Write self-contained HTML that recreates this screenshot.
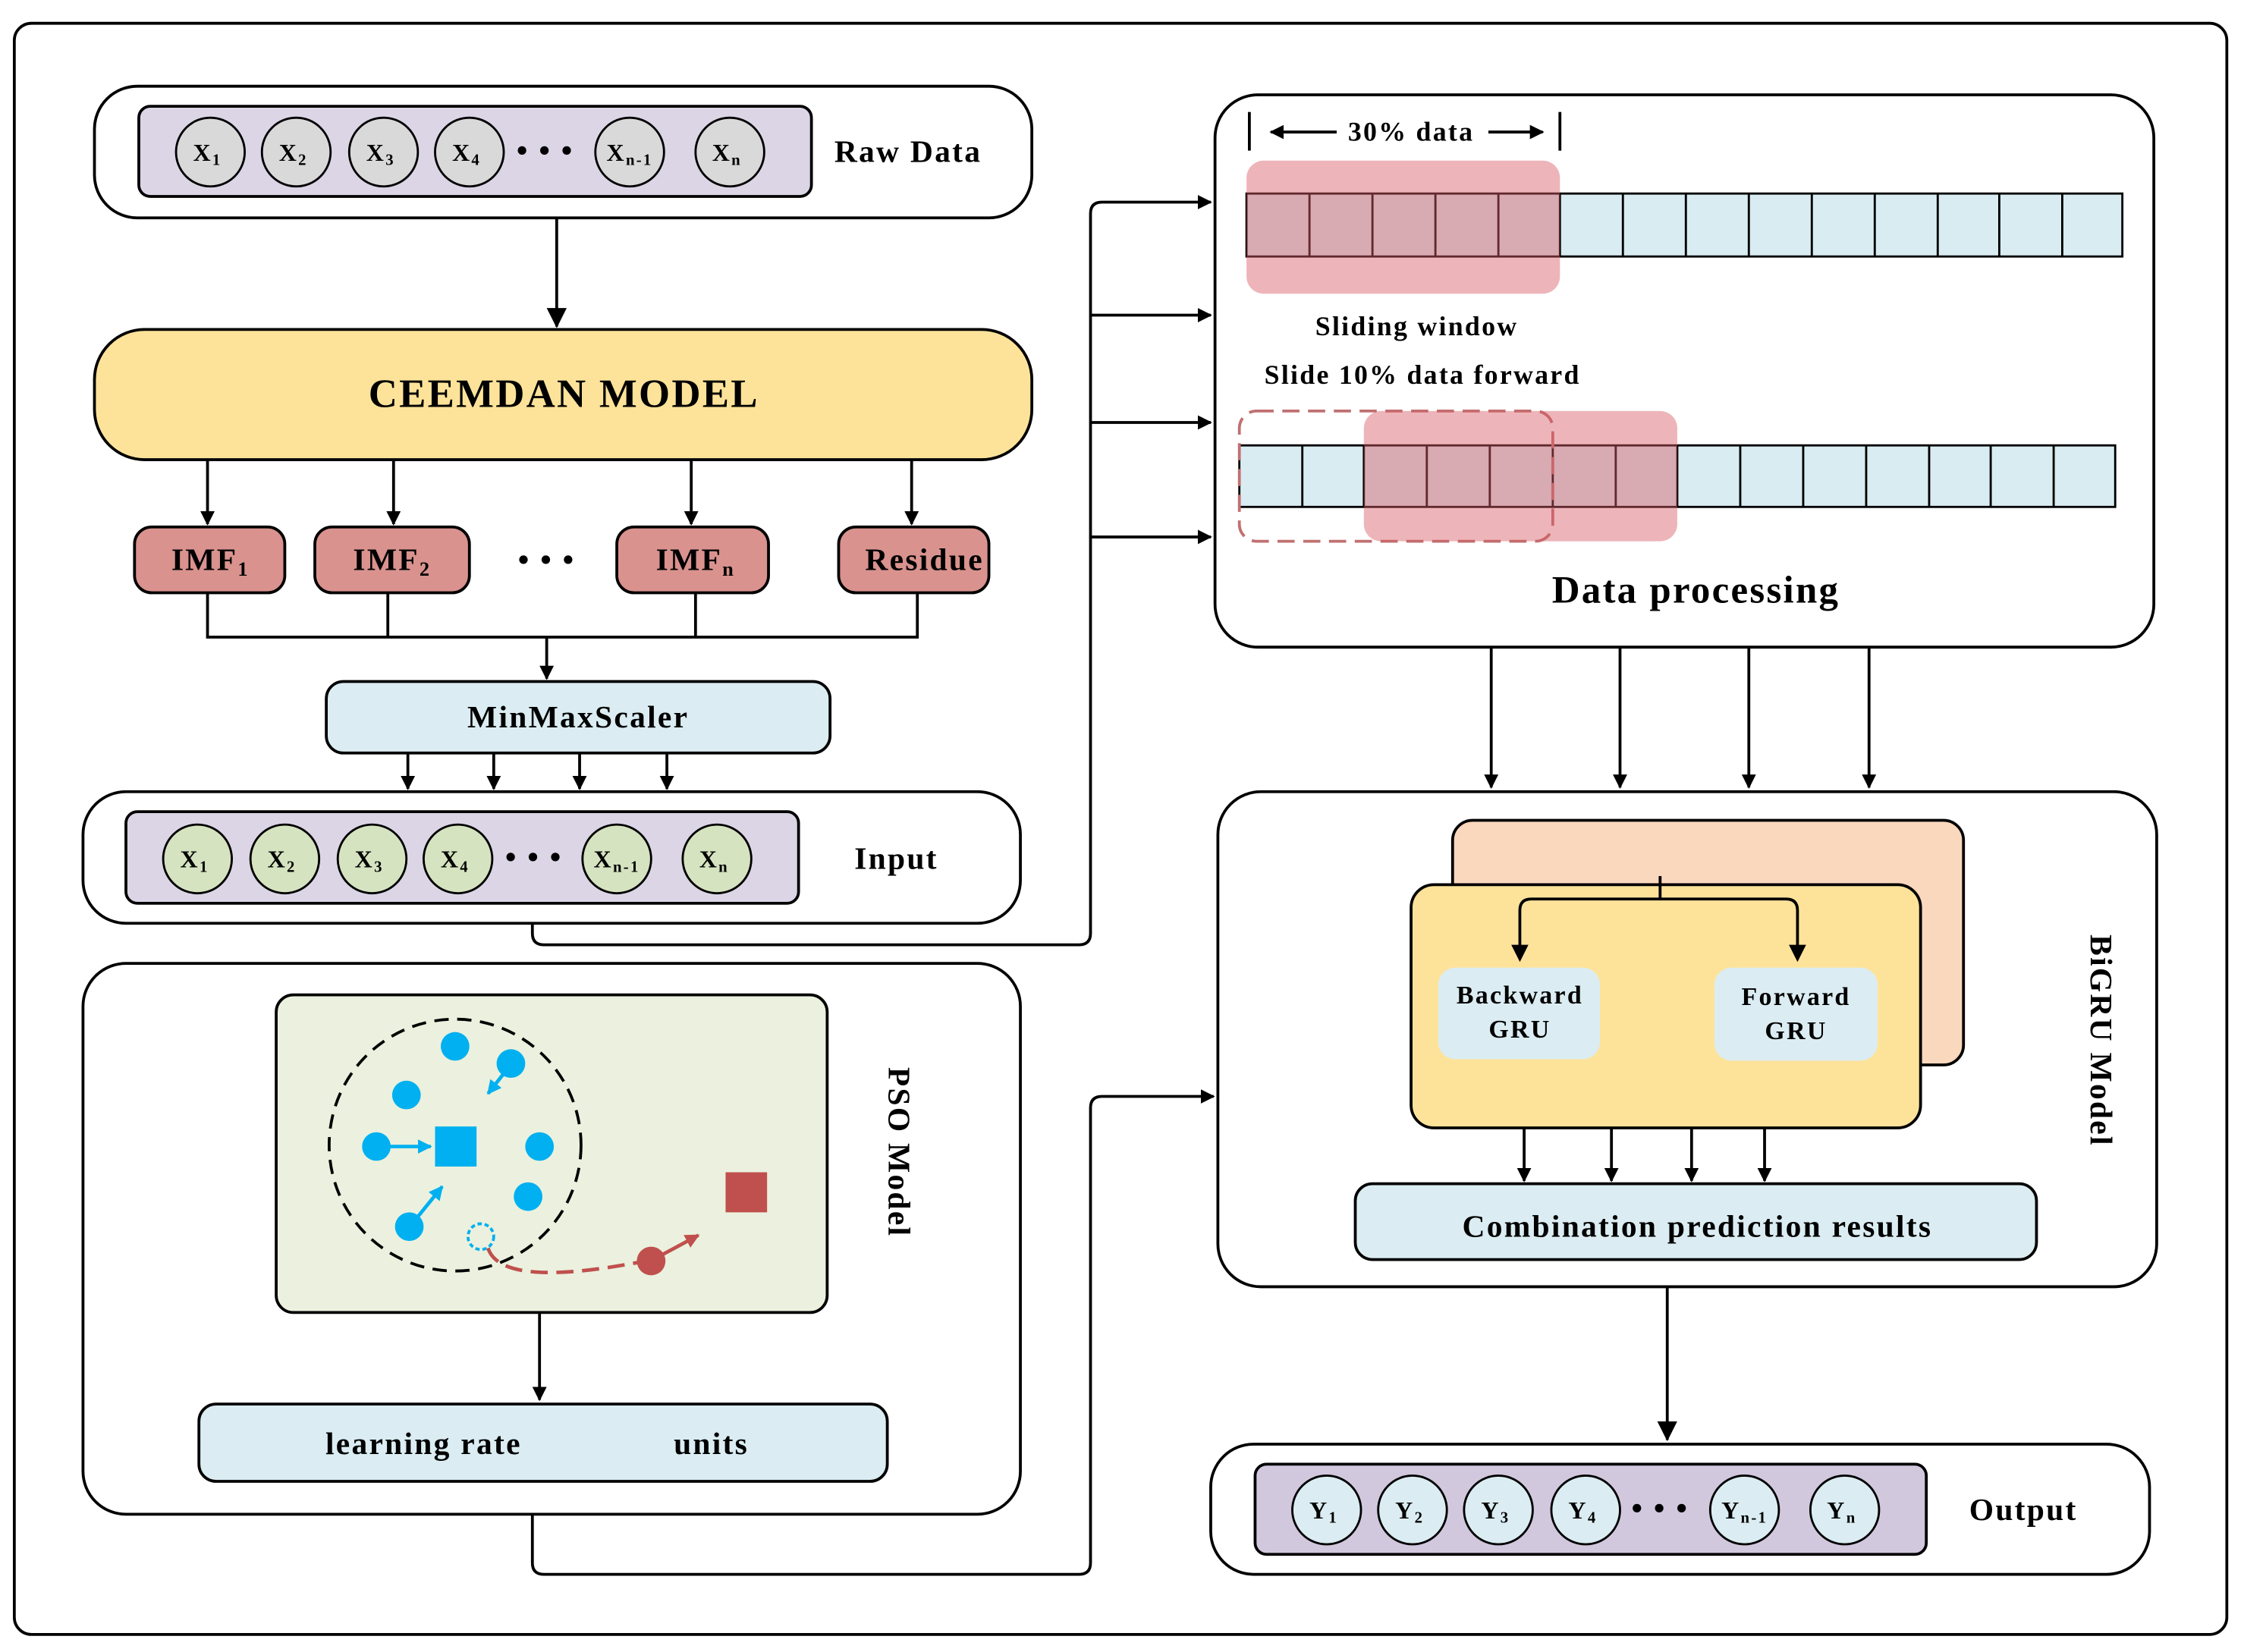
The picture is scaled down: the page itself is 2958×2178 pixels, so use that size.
<!DOCTYPE html>
<html><head><meta charset="utf-8"><style>
html,body{margin:0;padding:0;background:#fff;}
svg{display:block;}
text{font-family:"Liberation Serif",serif;font-weight:bold;fill:#000;letter-spacing:1.2px;}
</style></head><body>
<svg width="2958" height="2178" viewBox="0 0 1568 1154" xmlns="http://www.w3.org/2000/svg">
<defs>
<marker id="a" markerWidth="10" markerHeight="10" refX="9" refY="5" orient="auto" markerUnits="userSpaceOnUse"><path d="M0,0 L10,5 L0,10 z" fill="#000"/></marker>
<marker id="b" markerWidth="14" markerHeight="14" refX="13" refY="7" orient="auto" markerUnits="userSpaceOnUse"><path d="M0,0 L14,7 L0,14 z" fill="#000"/></marker>
<marker id="bl" markerWidth="10" markerHeight="10" refX="9" refY="5" orient="auto" markerUnits="userSpaceOnUse"><path d="M0,0 L10,5 L0,10 z" fill="#00b0f0"/></marker>
<marker id="rd" markerWidth="10" markerHeight="10" refX="9" refY="5" orient="auto" markerUnits="userSpaceOnUse"><path d="M0,0 L10,5 L0,10 z" fill="#c0504d"/></marker>
</defs>
<rect x="10" y="16" width="1546" height="1126" rx="12" fill="none" stroke="#000" stroke-width="2"/>

<!-- Raw data -->
<rect x="66" y="60" width="655" height="92" rx="30" fill="#fff" stroke="#000" stroke-width="2"/>
<rect x="97" y="74" width="470" height="63" rx="8" fill="#dcd5e6" stroke="#000" stroke-width="2"/>
<g fill="#d9d9d9" stroke="#000" stroke-width="1.5">
<circle cx="147" cy="106" r="24"/><circle cx="207" cy="106" r="24"/><circle cx="268" cy="106" r="24"/><circle cx="328" cy="106" r="24"/><circle cx="440" cy="106" r="24"/><circle cx="510" cy="106" r="24"/></g>
<g font-size="17" text-anchor="middle">
<text x="145" y="112">X<tspan font-size="11" dy="3">1</tspan></text>
<text x="205" y="112">X<tspan font-size="11" dy="3">2</tspan></text>
<text x="266" y="112">X<tspan font-size="11" dy="3">3</tspan></text>
<text x="326" y="112">X<tspan font-size="11" dy="3">4</tspan></text>
<text x="440" y="112">X<tspan font-size="11" dy="3">n-1</tspan></text>
<text x="508" y="112">X<tspan font-size="11" dy="3">n</tspan></text>
</g>
<text x="381" y="112" font-size="22" text-anchor="middle">• • •</text>
<text x="583" y="113" font-size="22">Raw Data</text>
<line x1="389" y1="152" x2="389" y2="228" stroke="#000" stroke-width="2" marker-end="url(#b)"/>

<!-- CEEMDAN -->
<rect x="66" y="230" width="655" height="91" rx="35" fill="#fde39a" stroke="#000" stroke-width="2"/>
<text x="394" y="284" font-size="28" text-anchor="middle">CEEMDAN MODEL</text>
<g stroke="#000" stroke-width="2">
<line x1="145" y1="321" x2="145" y2="366" marker-end="url(#a)"/>
<line x1="275" y1="321" x2="275" y2="366" marker-end="url(#a)"/>
<line x1="483" y1="321" x2="483" y2="366" marker-end="url(#a)"/>
<line x1="637" y1="321" x2="637" y2="366" marker-end="url(#a)"/>
</g>
<g fill="#d9928e" stroke="#000" stroke-width="2">
<rect x="94" y="368" width="105" height="46" rx="12"/><rect x="220" y="368" width="108" height="46" rx="12"/>
<rect x="431" y="368" width="106" height="46" rx="12"/><rect x="586" y="368" width="105" height="46" rx="12"/></g>
<g font-size="22" text-anchor="middle">
<text x="147" y="398">IMF<tspan font-size="14" dy="4">1</tspan></text>
<text x="274" y="398">IMF<tspan font-size="14" dy="4">2</tspan></text>
<text x="486" y="398">IMF<tspan font-size="14" dy="4">n</tspan></text>
<text x="646" y="398">Residue</text>
<text x="382" y="398">• • •</text></g>
<path d="M145,414 V445 H641 V414 M271,414 V445 M486,414 V445" fill="none" stroke="#000" stroke-width="2"/>
<line x1="382" y1="445" x2="382" y2="474" stroke="#000" stroke-width="2" marker-end="url(#a)"/>
<rect x="228" y="476" width="352" height="50" rx="12" fill="#dbedf2" stroke="#000" stroke-width="2"/>
<text x="404" y="508" font-size="22" text-anchor="middle">MinMaxScaler</text>
<g stroke="#000" stroke-width="2">
<line x1="285" y1="526" x2="285" y2="551" marker-end="url(#a)"/><line x1="345" y1="526" x2="345" y2="551" marker-end="url(#a)"/>
<line x1="405" y1="526" x2="405" y2="551" marker-end="url(#a)"/><line x1="466" y1="526" x2="466" y2="551" marker-end="url(#a)"/></g>

<!-- Input -->
<rect x="58" y="553" width="655" height="92" rx="30" fill="#fff" stroke="#000" stroke-width="2"/>
<rect x="88" y="567" width="470" height="64" rx="8" fill="#dcd5e6" stroke="#000" stroke-width="2"/>
<g fill="#d5e3c0" stroke="#000" stroke-width="1.5">
<circle cx="138" cy="600" r="24"/><circle cx="199" cy="600" r="24"/><circle cx="260" cy="600" r="24"/><circle cx="320" cy="600" r="24"/><circle cx="431" cy="600" r="24"/><circle cx="501" cy="600" r="24"/></g>
<g font-size="17" text-anchor="middle">
<text x="136" y="606">X<tspan font-size="11" dy="3">1</tspan></text>
<text x="197" y="606">X<tspan font-size="11" dy="3">2</tspan></text>
<text x="258" y="606">X<tspan font-size="11" dy="3">3</tspan></text>
<text x="318" y="606">X<tspan font-size="11" dy="3">4</tspan></text>
<text x="431" y="606">X<tspan font-size="11" dy="3">n-1</tspan></text>
<text x="499" y="606">X<tspan font-size="11" dy="3">n</tspan></text></g>
<text x="373" y="606" font-size="22" text-anchor="middle">• • •</text>
<text x="597" y="607" font-size="22">Input</text>

<!-- connector to data processing -->
<path d="M372,645 V652 Q372,660 380,660 H754 Q762,660 762,652 V149 Q762,141 770,141 H846" fill="none" stroke="#000" stroke-width="2" marker-end="url(#a)"/>
<g stroke="#000" stroke-width="2">
<line x1="762" y1="220" x2="846" y2="220" marker-end="url(#a)"/>
<line x1="762" y1="295" x2="846" y2="295" marker-end="url(#a)"/>
<line x1="762" y1="375" x2="846" y2="375" marker-end="url(#a)"/></g>

<!-- Data processing -->
<rect x="849" y="66" width="656" height="386" rx="30" fill="#fff" stroke="#000" stroke-width="2"/>
<g stroke="#000" stroke-width="2">
<line x1="873" y1="78" x2="873" y2="105"/><line x1="1090" y1="78" x2="1090" y2="105"/>
<line x1="934" y1="92" x2="888" y2="92" marker-end="url(#a)"/><line x1="1040" y1="92" x2="1078" y2="92" marker-end="url(#a)"/></g>
<text x="986" y="98" font-size="19" text-anchor="middle">30% data</text>
<rect x="871" y="135" width="612" height="44" fill="#d9ecf2" stroke="#000" stroke-width="1.5"/>
<path d="M915,135V179M959,135V179M1003,135V179M1047,135V179M1090,135V179M1134,135V179M1178,135V179M1222,135V179M1266,135V179M1310,135V179M1354,135V179M1397,135V179M1441,135V179" stroke="#000" stroke-width="1.5"/>
<rect x="871" y="112" width="219" height="93" rx="12" fill="rgba(215,90,100,0.45)"/>
<text x="990" y="234" font-size="19" text-anchor="middle">Sliding window</text>
<text x="994" y="268" font-size="19" text-anchor="middle">Slide 10% data forward</text>
<rect x="866" y="311" width="612" height="43" fill="#d9ecf2" stroke="#000" stroke-width="1.5"/>
<path d="M910,311V354M953,311V354M997,311V354M1041,311V354M1085,311V354M1129,311V354M1172,311V354M1216,311V354M1260,311V354M1304,311V354M1348,311V354M1391,311V354M1435,311V354" stroke="#000" stroke-width="1.5"/>
<rect x="866" y="287" width="219" height="91" rx="12" fill="none" stroke="#c07070" stroke-width="2" stroke-dasharray="12,6"/>
<rect x="953" y="287" width="219" height="91" rx="12" fill="rgba(215,90,100,0.45)"/>
<text x="1185" y="421" font-size="27" text-anchor="middle">Data processing</text>
<g stroke="#000" stroke-width="2">
<line x1="1042" y1="452" x2="1042" y2="550" marker-end="url(#a)"/><line x1="1132" y1="452" x2="1132" y2="550" marker-end="url(#a)"/>
<line x1="1222" y1="452" x2="1222" y2="550" marker-end="url(#a)"/><line x1="1306" y1="452" x2="1306" y2="550" marker-end="url(#a)"/></g>

<!-- BiGRU -->
<rect x="851" y="553" width="656" height="346" rx="30" fill="#fff" stroke="#000" stroke-width="2"/>
<rect x="1015" y="573" width="357" height="171" rx="14" fill="#fad8bd" stroke="#000" stroke-width="2"/>
<rect x="986" y="618" width="356" height="170" rx="16" fill="#fde39a" stroke="#000" stroke-width="2"/>
<line x1="1160" y1="612" x2="1160" y2="628" stroke="#000" stroke-width="2"/>
<path d="M1062,670 V636 Q1062,628 1070,628 H1248 Q1256,628 1256,636 V670" fill="none" stroke="#000" stroke-width="2"/>
<path d="M1056,660 L1068,660 L1062,672 z M1250,660 L1262,660 L1256,672 z" fill="#000"/>
<rect x="1005" y="676" width="113" height="64" rx="12" fill="#dbedf2"/>
<rect x="1198" y="676" width="114" height="65" rx="12" fill="#dbedf2"/>
<g font-size="18" text-anchor="middle">
<text x="1062" y="701">Backward</text><text x="1062" y="725">GRU</text>
<text x="1255" y="702">Forward</text><text x="1255" y="726">GRU</text></g>
<g stroke="#000" stroke-width="2">
<line x1="1065" y1="788" x2="1065" y2="825" marker-end="url(#a)"/><line x1="1126" y1="788" x2="1126" y2="825" marker-end="url(#a)"/>
<line x1="1182" y1="788" x2="1182" y2="825" marker-end="url(#a)"/><line x1="1233" y1="788" x2="1233" y2="825" marker-end="url(#a)"/></g>
<rect x="947" y="827" width="476" height="53" rx="12" fill="#dbedf2" stroke="#000" stroke-width="2"/>
<text x="1186" y="864" font-size="22" text-anchor="middle">Combination prediction results</text>
<text x="1461" y="727" font-size="22" text-anchor="middle" transform="rotate(90 1461 727)">BiGRU Model</text>
<line x1="1165" y1="899" x2="1165" y2="1006" stroke="#000" stroke-width="2" marker-end="url(#b)"/>

<!-- Output -->
<rect x="846" y="1009" width="656" height="91" rx="30" fill="#fff" stroke="#000" stroke-width="2"/>
<rect x="877" y="1023" width="469" height="63" rx="8" fill="#d2c8de" stroke="#000" stroke-width="2"/>
<g fill="#dbedf2" stroke="#000" stroke-width="1.5">
<circle cx="927" cy="1055" r="24"/><circle cx="987" cy="1055" r="24"/><circle cx="1047" cy="1055" r="24"/><circle cx="1108" cy="1055" r="24"/><circle cx="1219" cy="1055" r="24"/><circle cx="1289" cy="1055" r="24"/></g>
<g font-size="17" text-anchor="middle">
<text x="925" y="1061">Y<tspan font-size="11" dy="3">1</tspan></text>
<text x="985" y="1061">Y<tspan font-size="11" dy="3">2</tspan></text>
<text x="1045" y="1061">Y<tspan font-size="11" dy="3">3</tspan></text>
<text x="1106" y="1061">Y<tspan font-size="11" dy="3">4</tspan></text>
<text x="1219" y="1061">Y<tspan font-size="11" dy="3">n-1</tspan></text>
<text x="1287" y="1061">Y<tspan font-size="11" dy="3">n</tspan></text></g>
<text x="1160" y="1061" font-size="22" text-anchor="middle">• • •</text>
<text x="1376" y="1062" font-size="22">Output</text>

<!-- PSO -->
<rect x="58" y="673" width="655" height="385" rx="30" fill="#fff" stroke="#000" stroke-width="2"/>
<rect x="193" y="695" width="385" height="222" rx="12" fill="#ebf1de" stroke="#000" stroke-width="2"/>
<circle cx="318" cy="800" r="88" fill="none" stroke="#000" stroke-width="2" stroke-dasharray="10,6"/>
<g fill="#00b0f0">
<circle cx="318" cy="731" r="10"/><circle cx="357" cy="743" r="10"/><circle cx="284" cy="765" r="10"/>
<circle cx="263" cy="801" r="10"/><circle cx="377" cy="801" r="10"/><circle cx="369" cy="836" r="10"/><circle cx="286" cy="857" r="10"/>
<rect x="304" y="787" width="29" height="28"/></g>
<g stroke="#00b0f0" stroke-width="2.5">
<line x1="352" y1="750" x2="341" y2="764" marker-end="url(#bl)"/>
<line x1="270" y1="801" x2="301" y2="801" marker-end="url(#bl)"/>
<line x1="292" y1="850" x2="309" y2="829" marker-end="url(#bl)"/></g>
<circle cx="336" cy="864" r="9" fill="none" stroke="#00b0f0" stroke-width="2" stroke-dasharray="3,2"/>
<path d="M341,872 Q350,900 446,882" fill="none" stroke="#c0504d" stroke-width="2.5" stroke-dasharray="12,6"/>
<circle cx="455" cy="881" r="10" fill="#c0504d"/>
<line x1="462" y1="877" x2="488" y2="863" stroke="#c0504d" stroke-width="2.5" marker-end="url(#rd)"/>
<rect x="507" y="819" width="29" height="28" fill="#c0504d"/>
<text x="621" y="805" font-size="22" text-anchor="middle" transform="rotate(90 621 805)">PSO Model</text>
<line x1="377" y1="917" x2="377" y2="978" stroke="#000" stroke-width="2" marker-end="url(#a)"/>
<rect x="139" y="981" width="481" height="54" rx="12" fill="#dbedf2" stroke="#000" stroke-width="2"/>
<text x="296" y="1016" font-size="22" text-anchor="middle">learning rate</text>
<text x="497" y="1016" font-size="22" text-anchor="middle">units</text>
<path d="M372,1058 V1092 Q372,1100 380,1100 H754 Q762,1100 762,1092 V774 Q762,766 770,766 H848" fill="none" stroke="#000" stroke-width="2" marker-end="url(#a)"/>
</svg>
</body></html>
